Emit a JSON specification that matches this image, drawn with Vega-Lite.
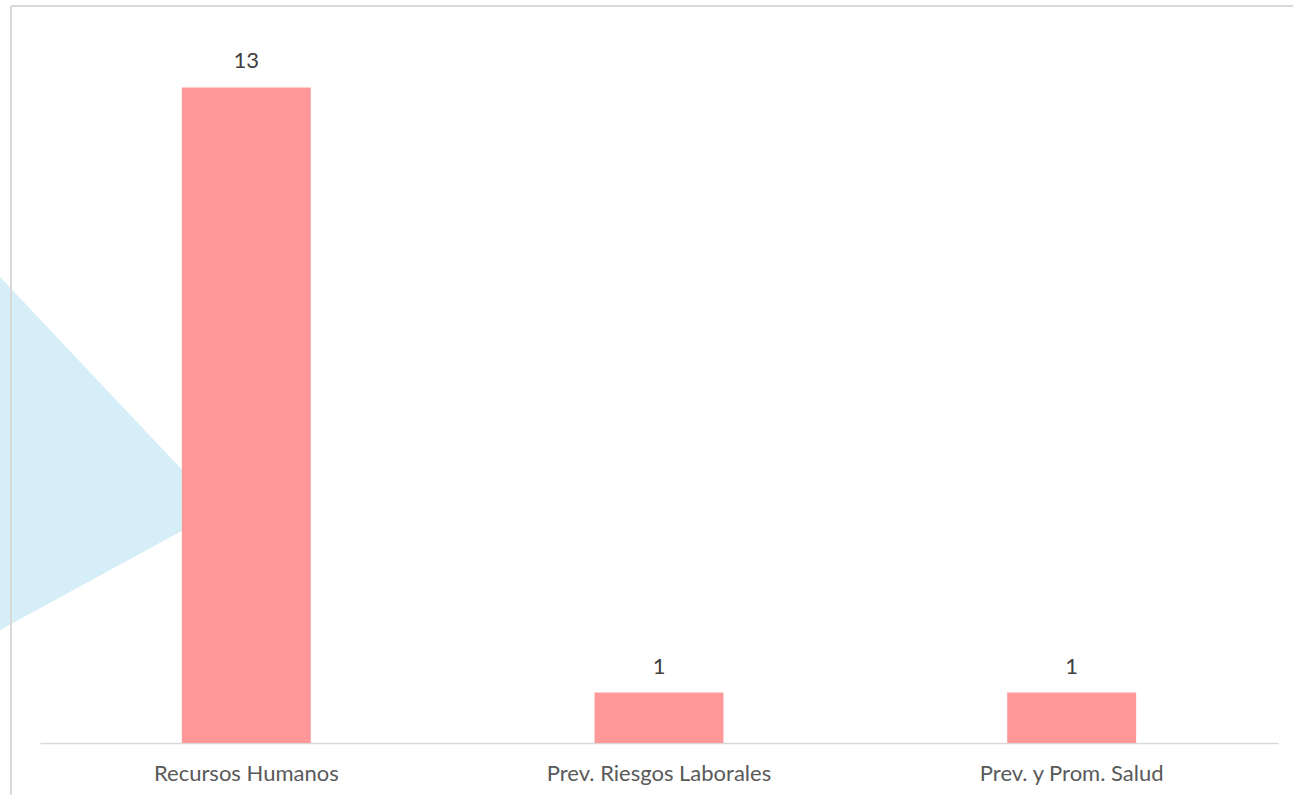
{
  "$schema": "https://vega.github.io/schema/vega-lite/v6.json",
  "width": 1238,
  "height": 706,
  "autosize": {"type": "none"},
  "padding": {"left": 40, "top": 37, "right": 15, "bottom": 52},
  "background": "white",
  "config": {"view": {"stroke": null}, "font": "Lato"},
  "layer": [
    {
      "data": {"values": [
        {"px": 0, "top": 277, "bottom": 630},
        {"px": 220, "top": 510, "bottom": 510}
      ]},
      "mark": {"type": "area", "color": "#D5EEF8", "opacity": 1, "clip": false},
      "encoding": {
        "x": {"field": "px", "type": "quantitative", "axis": null, "scale": {"domain": [0, 1293], "range": [-40, 1253], "nice": false, "zero": false}},
        "y": {"field": "top", "type": "quantitative", "axis": null, "scale": {"domain": [0, 802], "range": [-37, 765], "nice": false, "zero": false}},
        "y2": {"field": "bottom"}
      }
    },
    {
      "data": {"values": [
        {"x1": 11, "x2": 11, "y1": 6, "y2": 802},
        {"x1": 11, "x2": 1293, "y1": 6, "y2": 6}
      ]},
      "mark": {"type": "rule", "stroke": "#D9D9D9", "strokeWidth": 2, "clip": false},
      "encoding": {
        "x": {"field": "x1", "type": "quantitative", "axis": null, "scale": {"domain": [0, 1293], "range": [-40, 1253], "nice": false, "zero": false}},
        "x2": {"field": "x2"},
        "y": {"field": "y1", "type": "quantitative", "axis": null, "scale": {"domain": [0, 802], "range": [-37, 765], "nice": false, "zero": false}},
        "y2": {"field": "y2"}
      }
    },
    {
      "data": {"values": [
        {"area": "Recursos Humanos", "count": 13},
        {"area": "Prev. Riesgos Laborales", "count": 1},
        {"area": "Prev. y Prom. Salud", "count": 1}
      ]},
      "encoding": {
        "x": {
          "field": "area", "type": "nominal", "sort": null,
          "scale": {"paddingInner": 0, "paddingOuter": 0},
          "axis": {
            "title": null, "labelAngle": 0, "ticks": false,
            "domainColor": "#D9D9D9", "domainWidth": 1.5,
            "labelColor": "#595959", "labelFont": "Lato", "labelFontSize": 22,
            "labelLimit": 0, "labelPadding": 20, "grid": false
          }
        },
        "y": {
          "field": "count", "type": "quantitative",
          "scale": {"domain": [0, 14], "nice": false},
          "axis": null
        }
      },
      "layer": [
        {"mark": {"type": "bar", "color": "#FF9999", "width": {"band": 0.3125}}},
        {
          "mark": {"type": "text", "baseline": "alphabetic", "dy": -19, "color": "#404040", "font": "Lato", "fontSize": 22},
          "encoding": {"text": {"field": "count", "type": "quantitative"}}
        }
      ]
    }
  ],
  "resolve": {"scale": {"x": "independent", "y": "independent"}}
}
